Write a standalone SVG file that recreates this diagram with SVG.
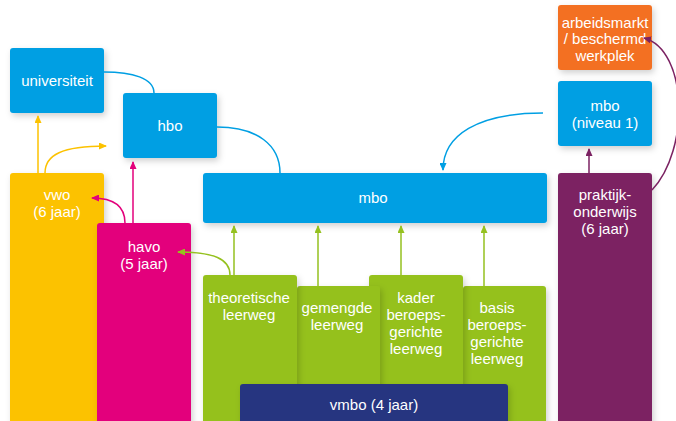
<svg xmlns="http://www.w3.org/2000/svg" width="676" height="421" viewBox="0 0 676 421">
<style>
text{font-family:"Liberation Sans",Arial,sans-serif;font-size:15px;fill:#fff;text-anchor:middle}
.c{fill:none;stroke-width:1.5}
</style>
<defs>
<filter id="sh" x="-20%" y="-20%" width="140%" height="140%"><feDropShadow dx="2" dy="3" stdDeviation="3" flood-color="#000" flood-opacity="0.18"/></filter>
<marker id="ay" viewBox="0 0 8 7" refX="7" refY="3.5" markerWidth="8" markerHeight="7" markerUnits="userSpaceOnUse" orient="auto"><path d="M0,0L8,3.5L0,7z" fill="#FCC200"/></marker>
<marker id="am" viewBox="0 0 8 7" refX="7" refY="3.5" markerWidth="8" markerHeight="7" markerUnits="userSpaceOnUse" orient="auto"><path d="M0,0L8,3.5L0,7z" fill="#E3007B"/></marker>
<marker id="ag" viewBox="0 0 8 7" refX="7" refY="3.5" markerWidth="8" markerHeight="7" markerUnits="userSpaceOnUse" orient="auto"><path d="M0,0L8,3.5L0,7z" fill="#95C11F"/></marker>
<marker id="ab" viewBox="0 0 8 7" refX="7" refY="3.5" markerWidth="8" markerHeight="7" markerUnits="userSpaceOnUse" orient="auto"><path d="M0,0L8,3.5L0,7z" fill="#009FE3"/></marker>
<marker id="ap" viewBox="0 0 8 7" refX="7" refY="3.5" markerWidth="8" markerHeight="7" markerUnits="userSpaceOnUse" orient="auto"><path d="M0,0L8,3.5L0,7z" fill="#7B2262"/></marker>
</defs>
<rect width="676" height="421" fill="#fff"/>
<g id="vwo"><rect x="10" y="173" width="94" height="260" rx="3" fill="#FCC200" filter="url(#sh)"/><text x="57" y="200">vwo</text><text x="57" y="217">(6 jaar)</text></g>
<g id="havo"><rect x="97" y="223" width="94" height="210" rx="3" fill="#E3007B" filter="url(#sh)"/><text x="144" y="252">havo</text><text x="144" y="269">(5 jaar)</text></g>
<g id="universiteit"><rect x="10" y="48" width="94" height="65" rx="3" fill="#009FE3" filter="url(#sh)"/><text x="57" y="86">universiteit</text></g>
<g id="hbo"><rect x="123" y="93" width="94" height="65" rx="3" fill="#009FE3" filter="url(#sh)"/><text x="170" y="131">hbo</text></g>
<g id="mbo"><rect x="203" y="173" width="344" height="50" rx="3" fill="#009FE3" filter="url(#sh)"/><text x="373" y="203">mbo</text></g>
<g id="basis"><rect x="463" y="286" width="83" height="147" rx="3" fill="#95C11F" filter="url(#sh)"/><text x="497" y="313">basis</text><text x="497" y="330">beroeps-</text><text x="497" y="347">gerichte</text><text x="497" y="364">leerweg</text></g>
<g id="kader"><rect x="369" y="275" width="94" height="158" rx="3" fill="#95C11F" filter="url(#sh)"/><text x="416" y="303">kader</text><text x="416" y="320">beroeps-</text><text x="416" y="337">gerichte</text><text x="416" y="354">leerweg</text></g>
<g id="gemengde"><rect x="297" y="286" width="83" height="147" rx="3" fill="#95C11F" filter="url(#sh)"/><text x="337" y="313">gemengde</text><text x="337" y="330">leerweg</text></g>
<g id="theoretische"><rect x="203" y="275" width="94" height="158" rx="3" fill="#95C11F" filter="url(#sh)"/><text x="249" y="303">theoretische</text><text x="249" y="320">leerweg</text></g>
<g id="vmbo"><rect x="240" y="384" width="268" height="50" rx="3" fill="#263680" filter="url(#sh)"/><text x="374" y="410">vmbo (4 jaar)</text></g>
<g id="arbeidsmarkt"><rect x="558" y="5" width="94" height="65" rx="3" fill="#F37021" filter="url(#sh)"/><text x="605" y="28">arbeidsmarkt</text><text x="605" y="44">/ beschermd</text><text x="605" y="61">werkplek</text></g>
<g id="mbo-niveau-1"><rect x="558" y="81" width="94" height="65" rx="3" fill="#009FE3" filter="url(#sh)"/><text x="605" y="111">mbo</text><text x="605" y="128">(niveau 1)</text></g>
<g id="praktijkonderwijs"><rect x="558" y="173" width="94" height="260" rx="3" fill="#7B2262" filter="url(#sh)"/><text x="605" y="200">praktijk-</text><text x="605" y="217">onderwijs</text><text x="605" y="234">(6 jaar)</text></g>
<g id="connectors">
<path class="c" stroke="#009FE3" d="M104,72C132,72 154,78 154,93"/>
<path class="c" stroke="#009FE3" d="M217,127C257,127 280,145 280,173"/>
<path class="c" stroke="#FCC200" marker-end="url(#ay)" d="M38,173L38,116"/>
<path class="c" stroke="#FCC200" marker-end="url(#ay)" d="M45,173C45,155 62,146 106,146"/>
<path class="c" stroke="#E3007B" marker-end="url(#am)" d="M133,223L133,162"/>
<path class="c" stroke="#E3007B" marker-end="url(#am)" d="M125,223C125,207 114,198 92,198"/>
<path class="c" stroke="#95C11F" marker-end="url(#ag)" d="M230,275C230,259 214,252 178,252"/>
<path class="c" stroke="#95C11F" marker-end="url(#ag)" d="M234,275L234,226"/>
<path class="c" stroke="#95C11F" marker-end="url(#ag)" d="M318,286L318,226"/>
<path class="c" stroke="#95C11F" marker-end="url(#ag)" d="M401,275L401,226"/>
<path class="c" stroke="#95C11F" marker-end="url(#ag)" d="M484,286L484,226"/>
<path class="c" stroke="#009FE3" marker-end="url(#ab)" d="M543,113C478,113 443,135 443,170"/>
<path class="c" stroke="#7B2262" marker-end="url(#ap)" d="M589,173L589,149"/>
<path class="c" stroke="#7B2262" marker-end="url(#ap)" d="M652,190C690,150 688,50 644,38"/>
</g>
</svg>
